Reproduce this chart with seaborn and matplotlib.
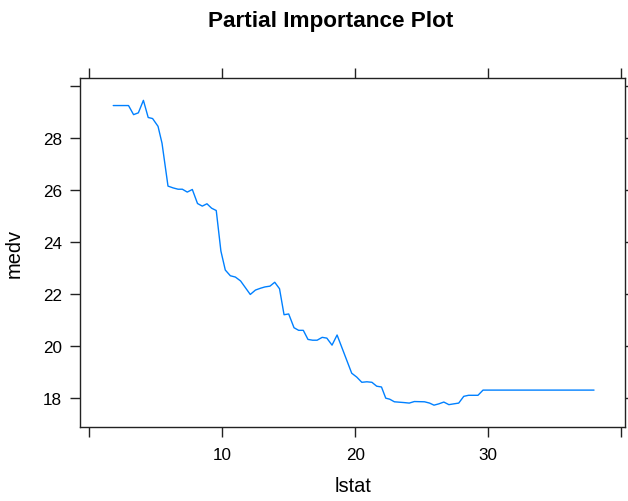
import matplotlib
matplotlib.use("Agg")
import matplotlib.pyplot as plt
import seaborn as sns
import pandas as pd

# ---- data ----
lstat = [1.8, 2.95, 3.33, 3.69, 4.07, 4.43, 4.76, 5.17, 5.47, 5.92, 6.31, 6.68,
         7.0, 7.37, 7.75, 8.14, 8.5, 8.85, 9.2, 9.55, 9.9, 10.23, 10.61, 10.99,
         11.38, 12.11, 12.5, 12.88, 13.21, 13.59, 13.95, 14.31, 14.65, 15.0,
         15.4, 15.75, 16.1, 16.45, 16.8, 17.14, 17.52, 17.87, 18.26, 18.64,
         19.74, 20.12, 20.5, 20.88, 21.26, 21.62, 21.98, 22.3, 22.6, 22.95,
         23.68, 24.07, 24.45, 25.22, 25.6, 25.93, 26.29, 26.67, 27.05, 27.41,
         27.79, 28.17, 28.53, 28.91, 29.24, 29.62, 37.97]
medv = [29.25, 29.25, 28.9, 28.97, 29.45, 28.79, 28.75, 28.45, 27.8, 26.15,
        26.08, 26.03, 26.03, 25.92, 26.02, 25.48, 25.38, 25.47, 25.3, 25.21,
        23.65, 22.92, 22.7, 22.65, 22.5, 21.98, 22.15, 22.22, 22.27, 22.3,
        22.45, 22.2, 21.2, 21.23, 20.7, 20.6, 20.6, 20.25, 20.22, 20.22,
        20.33, 20.3, 20.03, 20.42, 18.95, 18.8, 18.6, 18.62, 18.6, 18.45,
        18.42, 17.99, 17.95, 17.85, 17.82, 17.8, 17.86, 17.85, 17.8, 17.72,
        17.77, 17.84, 17.74, 17.77, 17.8, 18.06, 18.1, 18.1, 18.1, 18.3, 18.3]

x_ticks = [0, 10, 20, 30, 40]
x_tick_labels = ["", "10", "20", "30", ""]
y_ticks = [18, 20, 22, 24, 26, 28, 30]
y_tick_labels = ["18", "20", "22", "24", "26", "28", ""]

title = "Partial Importance Plot"
x_label = "lstat"
y_label = "medv"

sns.set_theme(style="white")
plt.rcParams["font.family"] = ["Liberation Sans", "DejaVu Sans"]

df = pd.DataFrame({"lstat": lstat, "medv": medv})

fig = plt.figure(figsize=(6.28, 5.02), dpi=100)
ax = fig.add_axes([80 / 628, 1 - 428 / 502, 545 / 628, 349 / 502])

sns.lineplot(data=df, x="lstat", y="medv", ax=ax, color="#0080ff",
             linewidth=1.0, sort=False, estimator=None)

ax.set_xlim(-0.7, 40.3)
ax.set_ylim(16.88, 30.31)

ax.set_xticks(x_ticks)
ax.set_xticklabels(x_tick_labels)
ax.set_yticks(y_ticks)
ax.set_yticklabels(y_tick_labels)

for s in ax.spines.values():
    s.set_color("#222222")
    s.set_linewidth(1.0)

ax.tick_params(axis="x", which="both", direction="out", length=7.2, width=1.0,
               color="#222222", top=True, bottom=True, labeltop=False,
               labelbottom=True, pad=7, labelsize=12.3, labelcolor="black")
ax.tick_params(axis="y", which="both", direction="out", length=7.2, width=1.0,
               color="#222222", left=True, right=True, labelleft=True,
               labelright=False, pad=5.5, labelsize=12.3, labelcolor="black")

ax.set_xlabel("")
ax.set_ylabel("")
fig.text(353 / 628, 1 - 487 / 502, x_label, ha="center", va="center",
         fontsize=14.4, color="black")
fig.text(14 / 628, 1 - 253 / 502, y_label, ha="center", va="center",
         rotation=90, fontsize=14.4, color="black")
fig.text(331 / 628, 1 - 21 / 502, title, ha="center", va="center",
         fontsize=16.2, fontweight="bold", color="black")

fig.savefig("out.png", dpi=100)
